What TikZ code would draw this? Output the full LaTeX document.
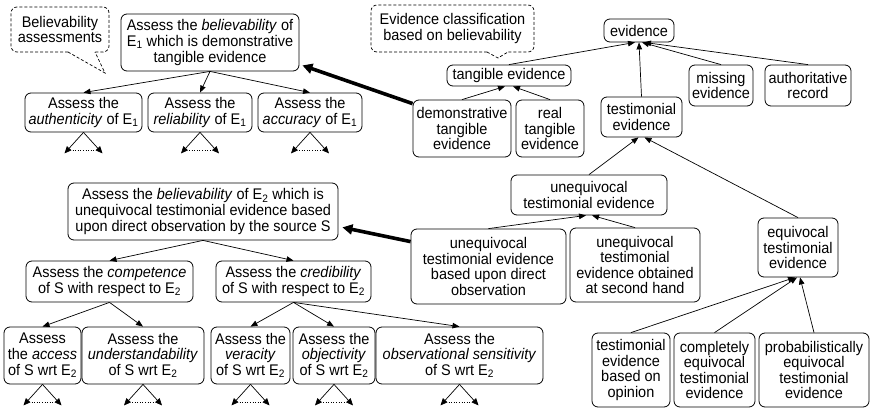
\documentclass[tikz,border=0pt]{standalone}
\usepackage{fontspec}
\setmainfont{Liberation Sans}[FakeStretch=0.94]
\usetikzlibrary{arrows.meta,calc}
\newcommand{\subidx}[1]{\textsubscript{#1}}
\begin{document}
\begin{tikzpicture}[x=1pt,y=-1pt,
  txt/.style={align=center,inner sep=0pt,font=\fontsize{15.4}{15.6}\selectfont},
  box/.style={txt,draw,rounded corners=6pt,line width=0.8pt},
  arr/.style={line width=0.7pt,-{Triangle[length=7pt,width=5.5pt]}},
  smallarr/.style={line width=0.7pt,-{Triangle[length=7pt,width=6pt]}},
  thickarr/.style={line width=3.6pt,-{Triangle[length=10pt,width=10pt]}},
  calloutline/.style={line width=0.7pt,dash pattern=on 3pt off 2pt}]
\useasboundingbox (0,0) rectangle (870,409);

% ---- believability assessment of E1 ----
\node[box,minimum width=178pt,minimum height=57pt] (bel1) at (210,42.5)
  {Assess the \textit{believability} of\\E\subidx{1} which is demonstrative\\tangible evidence};
\node[box,minimum width=117pt,minimum height=39pt] (auth) at (83.5,112.5)
  {Assess the\\\textit{authenticity} of E\subidx{1}};
\node[box,minimum width=104pt,minimum height=39pt] (rel) at (200,112.5)
  {Assess the\\\textit{reliability} of E\subidx{1}};
\node[box,minimum width=104pt,minimum height=39pt] (acc) at (310,112.5)
  {Assess the\\\textit{accuracy} of E\subidx{1}};

% ---- callouts ----
\node[txt] (noteA) at (60,29.5) {Believability\\assessments};
\draw[calloutline,rounded corners=6pt] (68,52) -- (11,52) -- (11,7) -- (109,7) -- (109,52) -- (95,52);
\draw[calloutline] (68,52) -- (105,73) -- (95,52);
\node[txt] (noteB) at (452.5,28.5) {Evidence classification\\based on believability};
\draw[calloutline,rounded corners=6pt] (487,52) -- (371,52) -- (371,5) -- (534,5) -- (534,52) -- (508,52);
\draw[calloutline] (487,52) -- (498,58) -- (508,52);

% ---- evidence classification ----
\node[box,minimum width=70pt,minimum height=23pt] (evid) at (639,30.5) {evidence};
\node[box,minimum width=124pt,minimum height=21pt] (tang) at (509,75.5) {tangible evidence};
\node[box,minimum width=98pt,minimum height=57pt] (demo) at (462,128.5) {demonstrative\\tangible\\evidence};
\node[box,minimum width=68pt,minimum height=57pt] (real) at (550,128.5) {real\\tangible\\evidence};
\node[box,minimum width=64pt,minimum height=41pt] (miss) at (721,85.5) {missing\\evidence};
\node[box,minimum width=86pt,minimum height=41pt] (authrec) at (808,85.5) {authoritative\\record};
\node[box,minimum width=81pt,minimum height=40pt] (testi) at (641.5,117) {testimonial\\evidence};
\node[box,minimum width=156pt,minimum height=40pt] (uneq) at (589,195) {unequivocal\\testimonial evidence};
\node[box,minimum width=155pt,minimum height=75pt] (direct) at (488.5,266.5)
  {unequivocal\\testimonial evidence\\based upon direct\\observation};
\node[box,minimum width=130pt,minimum height=74pt] (second) at (635,265)
  {unequivocal\\testimonial\\evidence obtained\\at second hand};
\node[box,minimum width=80pt,minimum height=59pt] (equiv) at (798,247.5) {equivocal\\testimonial\\evidence};
\node[box,minimum width=78pt,minimum height=74pt] (opin) at (631,370) {testimonial\\evidence\\based on\\opinion};
\node[box,minimum width=81pt,minimum height=74pt] (compl) at (714.5,370) {completely\\equivocal\\testimonial\\evidence};
\node[box,minimum width=110pt,minimum height=74pt] (prob) at (814,370) {probabilistically\\equivocal\\testimonial\\evidence};

% ---- believability assessment of E2 ----
\node[box,minimum width=270pt,minimum height=57pt] (bel2) at (203,211.5)
  {Assess the \textit{believability} of E\subidx{2} which is\\unequivocal testimonial evidence based\\upon direct observation by the source S};
\node[box,minimum width=167pt,minimum height=41pt] (comp) at (109.5,281.5)
  {Assess the \textit{competence}\\of S with respect to E\subidx{2}};
\node[box,minimum width=155pt,minimum height=41pt] (cred) at (293.5,281.5)
  {Assess the \textit{credibility}\\of S with respect to E\subidx{2}};
\node[box,minimum width=77pt,minimum height=57pt] (access) at (42.5,355.5)
  {Assess\\the \textit{access}\\of S wrt E\subidx{2}};
\node[box,minimum width=122pt,minimum height=57pt] (underst) at (143,355.5)
  {Assess the\\\textit{understandability}\\of S wrt E\subidx{2}};
\node[box,minimum width=79pt,minimum height=57pt] (verac) at (250.5,355.5)
  {Assess the\\\textit{veracity}\\of S wrt E\subidx{2}};
\node[box,minimum width=82pt,minimum height=57pt] (objec) at (334,355.5)
  {Assess the\\\textit{objectivity}\\of S wrt E\subidx{2}};
\node[box,minimum width=167pt,minimum height=57pt] (obsens) at (459.5,355.5)
  {Assess the\\\textit{observational sensitivity}\\of S wrt E\subidx{2}};

% ---- decomposition of assessments ----
\foreach \c in {auth,rel,acc} \draw[arr] (bel1.south) -- (\c.north);
\foreach \c in {comp,cred} \draw[arr] (bel2.south) -- (\c.north);
\foreach \c in {access,underst} \draw[arr] (comp.south) -- (\c.north);
\foreach \c in {verac,objec,obsens} \draw[arr] (cred.south) -- (\c.north);

% further, unexpanded decomposition below each leaf
\foreach \n in {auth,rel,acc,access,underst,verac,objec,obsens} {
  \coordinate (\n-l) at ($(\n.south)+(-19,21)$);
  \coordinate (\n-r) at ($(\n.south)+(19,21)$);
  \coordinate (\n-dl) at ($(\n.south)+(-11,18)$);
  \coordinate (\n-dr) at ($(\n.south)+(11,18)$);
  \draw[smallarr] (\n.south) -- (\n-l);
  \draw[smallarr] (\n.south) -- (\n-r);
  \draw[dotted,line width=0.6pt] (\n-dl) -- (\n-dr);
}

% ---- classification hierarchy ----
\draw[arr] (tang.north) -- ([xshift=-4pt]evid.south);
\draw[arr] (testi.north) -- ([xshift=0pt]evid.south);
\draw[arr] (miss.north) -- ([xshift=3pt]evid.south);
\draw[arr] (authrec.north) -- ([xshift=5pt]evid.south);
\draw[arr] (demo.north) -- ([xshift=-4pt]tang.south);
\draw[arr] (real.north) -- ([xshift=4pt]tang.south);
\draw[arr] (uneq.north) -- ([xshift=-3pt]testi.south);
\draw[arr] (equiv.north) -- ([xshift=3pt]testi.south);
\draw[arr] (direct.north) -- ([xshift=-3pt]uneq.south);
\draw[arr] (second.north) -- ([xshift=3pt]uneq.south);
\draw[arr] (opin.north) -- ([xshift=-3pt]equiv.south);
\draw[arr] (compl.north) -- ([xshift=-1pt]equiv.south);
\draw[arr] (prob.north) -- ([xshift=2pt]equiv.south);

% ---- links from evidence types to their assessments ----
\draw[thickarr] ($(demo.north west)+(0,4)$) -- ($(bel1.south east)+(3,-6)$);
\draw[thickarr] ($(direct.north west)+(0,13)$) -- ($(bel2.south east)+(4,-13)$);
\end{tikzpicture}
\end{document}
